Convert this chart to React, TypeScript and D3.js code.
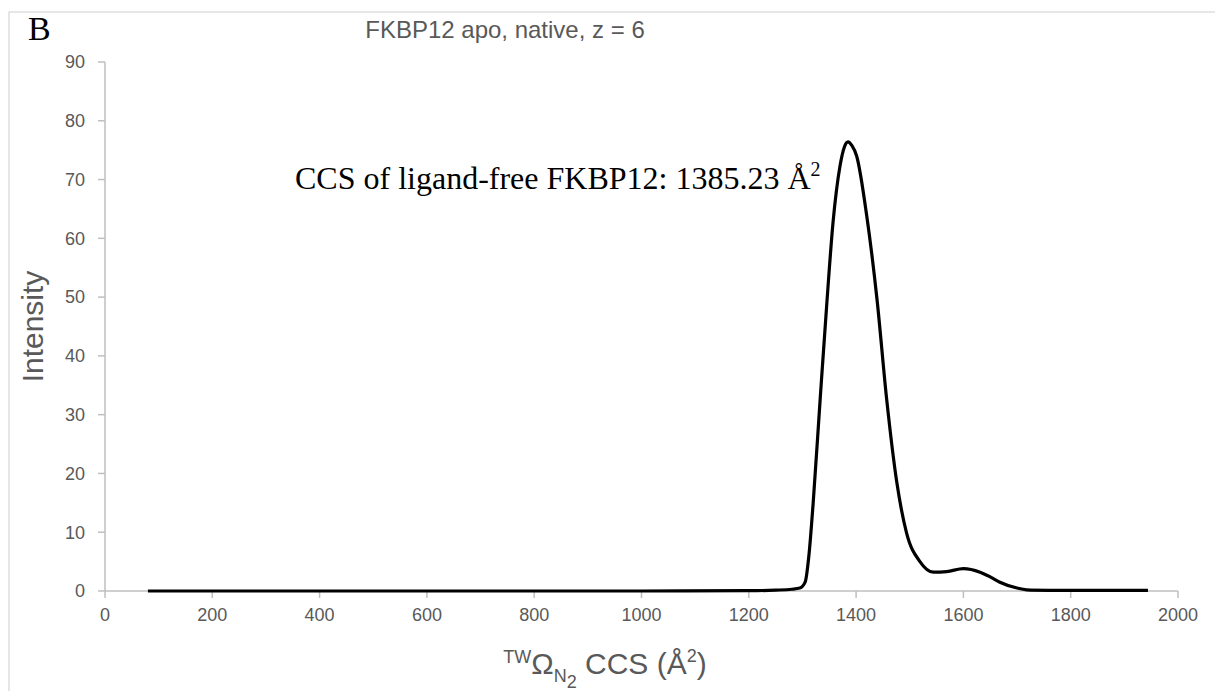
import React from "react";
import * as d3 from "d3";

const ccs = [80, 200, 400, 600, 800, 1000, 1200, 1250, 1280, 1295, 1305, 1312, 1320, 1333, 1345, 1357, 1370, 1378, 1385, 1392, 1401, 1420, 1439, 1457, 1476, 1494, 1519, 1544, 1569, 1600, 1631, 1650, 1668, 1700, 1718, 1760, 1800, 1850, 1900, 1944];
const intensity = [0, 0, 0, 0, 0, 0, 0.05, 0.15, 0.3, 0.5, 1.5, 6, 15, 32.6, 48.4, 62.7, 72.3, 75.5, 76.4, 75.8, 74, 63.7, 49.6, 32.6, 18.4, 9.9, 5.0, 3.2, 3.3, 3.8, 3.2, 2.4, 1.5, 0.5, 0.2, 0.12, 0.1, 0.1, 0.1, 0.1];
const xTicks = [0, 200, 400, 600, 800, 1000, 1200, 1400, 1600, 1800, 2000];
const yTicks = [0, 10, 20, 30, 40, 50, 60, 70, 80, 90];

const W = 1215, H = 691;
const left = 105, right = 1178, top = 62, bottom = 591;

export default function App() {
  const x = d3.scaleLinear().domain([0, 2000]).range([left, right]);
  const y = d3.scaleLinear().domain([0, 90]).range([bottom, top]);
  const pts = ccs.map((c, i) => [c, intensity[i]] as [number, number]);
  const line = d3.line<[number, number]>().x(d => x(d[0])).y(d => y(d[1])).curve(d3.curveMonotoneX);
  const axisColor = "#bfbfbf";
  const textColor = "#595959";
  const sans = "'Liberation Sans', Arial, sans-serif";
  const serif = "'Liberation Serif', 'Times New Roman', serif";
  return (
    <svg width={W} height={H} style={{ position: "absolute", left: 0, top: 0, background: "#fff" }}>
      <rect x={9} y={12} width={W + 10} height={H + 10} fill="#fff" stroke="#d9d9d9" strokeWidth={1.3} />
      <text x={28} y={40} fontFamily={serif} fontSize={34} fill="#000">B</text>
      <text x={505} y={38} fontFamily={sans} fontSize={24} fill={textColor} textAnchor="middle">FKBP12 apo, native, z = 6</text>
      {/* y axis */}
      <line x1={left} x2={left} y1={top} y2={bottom} stroke={axisColor} strokeWidth={1.5} />
      {yTicks.map(t => (
        <g key={"y" + t}>
          <line x1={left - 7} x2={left} y1={y(t)} y2={y(t)} stroke={axisColor} strokeWidth={1.5} />
          <text x={left - 20} y={y(t)} dy="0.35em" fontFamily={sans} fontSize={18} fill={textColor} textAnchor="end">{t}</text>
        </g>
      ))}
      {/* x axis */}
      <line x1={left} x2={right} y1={bottom} y2={bottom} stroke={axisColor} strokeWidth={1.5} />
      {xTicks.map(t => (
        <g key={"x" + t}>
          <line x1={x(t)} x2={x(t)} y1={bottom} y2={bottom + 7} stroke={axisColor} strokeWidth={1.5} />
          <text x={x(t)} y={bottom + 30} fontFamily={sans} fontSize={18} fill={textColor} textAnchor="middle">{t}</text>
        </g>
      ))}
      <text transform={`translate(43,${(top + bottom) / 2}) rotate(-90)`} fontFamily={sans} fontSize={30} fill={textColor} textAnchor="middle">Intensity</text>
      <text x={605} y={674} fontFamily={sans} fontSize={30} fill={textColor} textAnchor="middle">
        <tspan fontSize={18} dy={-11}>TW</tspan>
        <tspan dy={11}>Ω</tspan>
        <tspan fontSize={18} dy={8}>N</tspan>
        <tspan fontSize={18} dy={6}>2</tspan>
        <tspan dy={-14}> CCS (Å</tspan>
        <tspan fontSize={18} dy={-12}>2</tspan>
        <tspan dy={12}>)</tspan>
      </text>
      <text x={295} y={189} fontFamily={serif} fontSize={32} fill="#000">
        CCS of ligand-free FKBP12: 1385.23 Å<tspan fontSize={20} dy={-13}>2</tspan>
      </text>
      <path d={line(pts) || ""} fill="none" stroke="#000" strokeWidth={3.2} strokeLinejoin="round" />
    </svg>
  );
}
